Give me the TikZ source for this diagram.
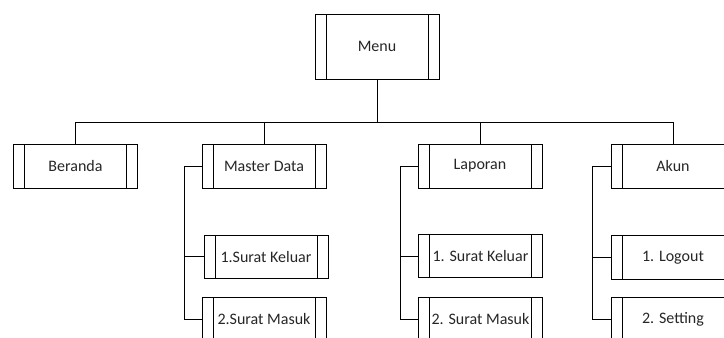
\documentclass[tikz,border=0pt]{standalone}
\usepackage{fontspec}
\setmainfont{Carlito}

\tikzset{
  menubox/.style={draw, line width=0.75pt, minimum width=124*0.75pt, minimum height=44*0.75pt,
    inner sep=0pt, font=\fontsize{12}{14}\selectfont, text=black!85,
    path picture={
      \draw[line width=0.75pt] ([xshift=11*0.75pt]path picture bounding box.north west) -- ([xshift=11*0.75pt]path picture bounding box.south west);
      \draw[line width=0.75pt] ([xshift=-11*0.75pt]path picture bounding box.north east) -- ([xshift=-11*0.75pt]path picture bounding box.south east);
    }},
  link/.style={line width=0.75pt}
}

\begin{document}
\begin{tikzpicture}[x=0.75pt, y=-0.75pt]
                \useasboundingbox (0,0) rectangle (724,337);
                \clip (0,0) rectangle (724,337);

                % Top box
                \node[menubox, minimum height=65*0.75pt] (menu) at (377,46.5) {Menu};

                % Main items
                \node[menubox] (beranda) at (75.5,166) {Beranda};
                \node[menubox] (master) at (264,166) {Master Data};
                \node[menubox] (laporan) at (480,166) {Laporan};
                \node[menubox] (akun) at (673,166) {Akun};

                % Sub items
                \node[menubox, minimum height=43*0.75pt] (md1) at (266,256.5) {1.Surat Keluar};
                \node[menubox] (md2) at (264,319) {2.Surat Masuk};
                \node[menubox, minimum height=43*0.75pt] (lp1) at (480.5,256) {1. Surat Keluar};
                \node[menubox] (lp2) at (480.5,319) {2. Surat Masuk};
                \node[menubox] (ak1) at (673,257.5) {1. Logout};
                \node[menubox] (ak2) at (673,319) {2. Setting};

                % Bus from the top box
                \coordinate (bus) at (377,122.5);
                \foreach \n in {beranda,master,laporan,akun}
                  \draw[link] (menu.south) -- (bus) -| (\n.north);

                % Side lines to the sub items
                \draw[link] (master.west) -- ++(-17,0) coordinate (mdl) |- (md2.west);
                \draw[link] (mdl |- md1.west) -- (md1.west);

                \draw[link] (laporan.west) -- ++(-17,0) coordinate (lpl) |- (lp2.west);
                \draw[link] (lpl |- lp1.west) -- (lp1.west);

                \draw[link] (akun.west) -- ++(-18,0) coordinate (akl) |- (ak2.west);
                \draw[link] (akl |- ak1.west) -- (ak1.west);
            \end{tikzpicture}
\end{document}
